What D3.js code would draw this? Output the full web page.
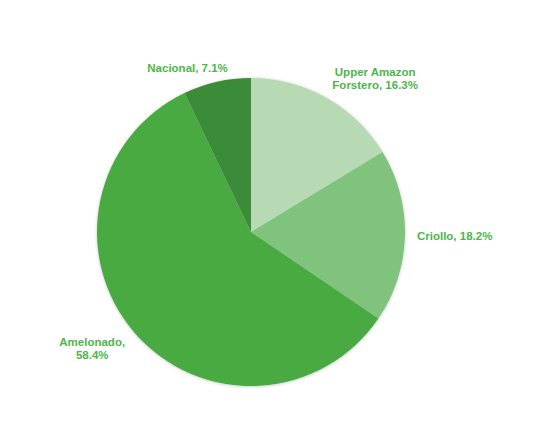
<!DOCTYPE html>
<html>
<head>
<meta charset="utf-8">
<script src="https://cdn.jsdelivr.net/npm/d3@7"></script>
<style>
  body { margin: 0; background: #fff; }
  .lbl { font-family: "Liberation Sans", Arial, sans-serif; font-weight: bold; font-size: 11.5px; fill: #4db649; }
</style>
</head>
<body>
<div id="chart"></div>
<script>
// data
const categories = ["Upper Amazon Forstero", "Criollo", "Amelonado", "Nacional"]
const shares = [16.3, 18.2, 58.4, 7.1]
const labelLines = [["Upper Amazon", "Forstero, 16.3%"], ["Criollo, 18.2%"], ["Amelonado,", "58.4%"], ["Nacional, 7.1%"]]
const colors = ["#b7d9b4", "#80c37d", "#4aaa43", "#3b8b37"]

const width = 535, height = 425
const cx = 251, cy = 232, radius = 154, labelRadius = 166

const svg = d3.select("#chart").append("svg")
    .attr("width", width)
    .attr("height", height)

const defs = svg.append("defs")
defs.append("filter").attr("id", "shadow")
    .attr("x", "-10%").attr("y", "-10%").attr("width", "120%").attr("height", "120%")
    .append("feDropShadow")
    .attr("dx", 0).attr("dy", 0.5)
    .attr("stdDeviation", 1.5)
    .attr("flood-color", "#000")
    .attr("flood-opacity", 0.25)

const data = categories.map((c, i) => ({ name: c, value: shares[i], lines: labelLines[i], color: colors[i] }))

const pie = d3.pie().sort(null).value(d => d.value)
const arcs = pie(data)
const arc = d3.arc().innerRadius(0).outerRadius(radius)

const g = svg.append("g").attr("transform", `translate(${cx},${cy})`)

g.append("g").attr("filter", "url(#shadow)")
    .selectAll("path")
    .data(arcs)
    .join("path")
    .attr("d", arc)
    .attr("fill", d => d.data.color)

// labels: box pushed outward so its nearest side sits on the label circle
const lineH = 13
const pad = 4 // bbox has empty space above/below glyphs
const labels = g.selectAll("text.lbl")
    .data(arcs)
    .join("text")
    .attr("class", "lbl")
    .attr("text-anchor", "middle")

labels.each(function (d) {
    const t = d3.select(this)
    d.data.lines.forEach((l, i) => {
        t.append("tspan").attr("x", 0).attr("y", i * lineH).text(l)
    })
    const bb = this.getBBox()
    const a = (d.startAngle + d.endAngle) / 2
    const s = Math.sin(a), c = Math.cos(a)
    const px = labelRadius * s, py = -labelRadius * c
    const ks = Math.max(-1, Math.min(1, s * 3))
    const kc = Math.max(-1, Math.min(1, c * 3))
    const left = px - bb.width * (1 - ks) / 2
    const top = py - bb.height * (1 + kc) / 2 + pad * kc
    t.attr("transform", `translate(${left - bb.x},${top - bb.y})`)
})
</script>
</body>
</html>
